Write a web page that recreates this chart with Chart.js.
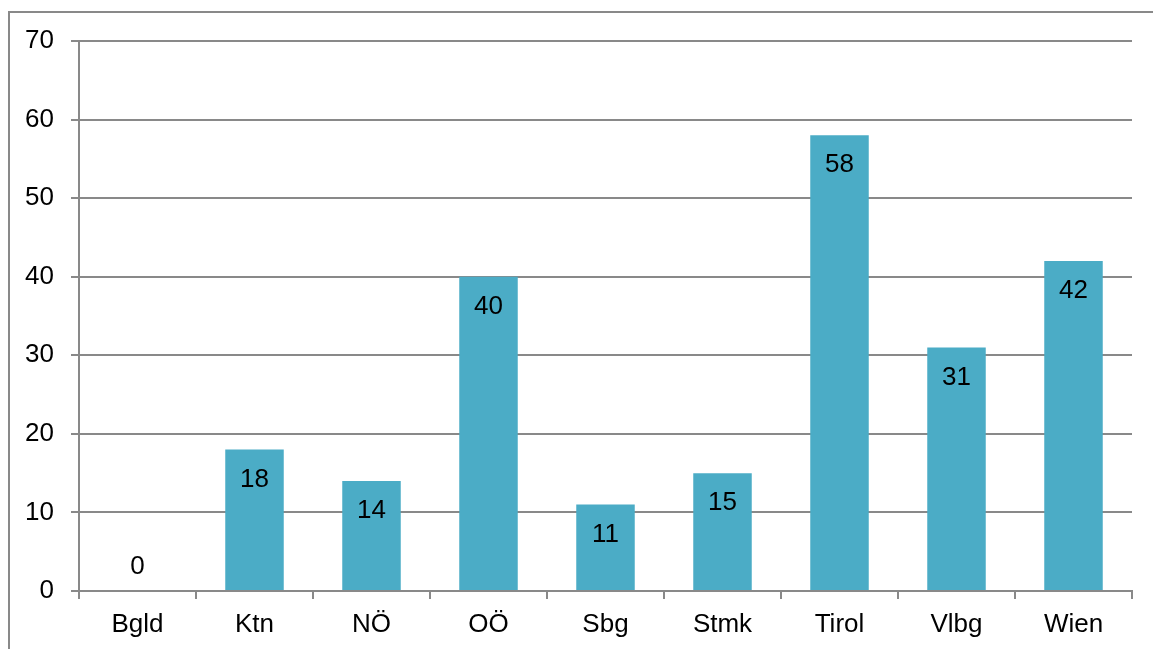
<!DOCTYPE html>
<html>
<head>
<meta charset="utf-8">
<script src="https://cdn.jsdelivr.net/npm/chart.js@4/dist/chart.umd.min.js"></script>
<style>
  html, body { margin: 0; padding: 0; background: #ffffff; }
  #wrap { width: 1153px; height: 649px; position: relative; }
</style>
</head>
<body>
<div id="wrap"><canvas id="c" width="1153" height="649"></canvas></div>
<script>
// Regions (Bundesländer) and their counts
const categories = ['Bgld', 'Ktn', 'NÖ', 'OÖ', 'Sbg', 'Stmk', 'Tirol', 'Vlbg', 'Wien'];
const values = [0, 18, 14, 40, 11, 15, 58, 31, 42];
const yTicks = [0, 10, 20, 30, 40, 50, 60, 70];

const FONT = "'Liberation Sans', Arial, sans-serif";
const AXIS_GRAY = '#898989';
const BAR_COLOR = '#4BACC6';

// Frame around the whole chart
const framePlugin = {
  id: 'frame',
  beforeDraw(chart) {
    const ctx = chart.ctx;
    ctx.save();
    ctx.strokeStyle = AXIS_GRAY;
    ctx.lineWidth = 2;
    ctx.strokeRect(9, 12, chart.width + 20, chart.height + 20);
    ctx.restore();
  }
};

// Value labels placed just inside the top of each bar (above the axis for zero)
const valueLabels = {
  id: 'valueLabels',
  afterDatasetsDraw(chart) {
    const ctx = chart.ctx;
    const meta = chart.getDatasetMeta(0);
    ctx.save();
    ctx.font = '26px ' + FONT;
    ctx.fillStyle = '#000000';
    ctx.textAlign = 'center';
    ctx.textBaseline = 'middle';
    meta.data.forEach((bar, i) => {
      const v = values[i];
      const y = v > 0 ? bar.y + 30 : bar.y - 24;
      ctx.fillText(String(v), bar.x, y);
    });
    ctx.restore();
  }
};

new Chart(document.getElementById('c'), {
  type: 'bar',
  data: {
    labels: categories,
    datasets: [{
      data: values,
      backgroundColor: BAR_COLOR,
      borderWidth: 0,
      categoryPercentage: 1.0,
      barPercentage: 0.5
    }]
  },
  options: {
    responsive: false,
    animation: false,
    devicePixelRatio: 1,
    layout: { padding: { left: 0, top: 41, right: 21, bottom: 0 } },
    plugins: {
      legend: { display: false },
      tooltip: { enabled: false }
    },
    scales: {
      x: {
        grid: {
          display: true,
          offset: true,
          drawOnChartArea: false,
          drawTicks: true,
          tickLength: 8,
          color: AXIS_GRAY,
          lineWidth: 2
        },
        border: { display: true, color: AXIS_GRAY, width: 2 },
        ticks: {
          color: '#000000',
          font: { family: FONT, size: 26 },
          padding: 10,
          maxRotation: 0,
          autoSkip: false
        },
        afterFit(scale) { scale.height = 58; }
      },
      y: {
        min: 0,
        max: 70,
        afterBuildTicks(scale) {
          scale.ticks = yTicks.map(v => ({ value: v }));
        },
        grid: {
          color: AXIS_GRAY,
          lineWidth: 2,
          drawTicks: true,
          tickLength: 8
        },
        border: { display: true, color: AXIS_GRAY, width: 2 },
        ticks: {
          color: '#000000',
          font: { family: FONT, size: 26 },
          padding: 17
        },
        afterFit(scale) { scale.width = 79; }
      }
    }
  },
  plugins: [framePlugin, valueLabels]
});
</script>
</body>
</html>
